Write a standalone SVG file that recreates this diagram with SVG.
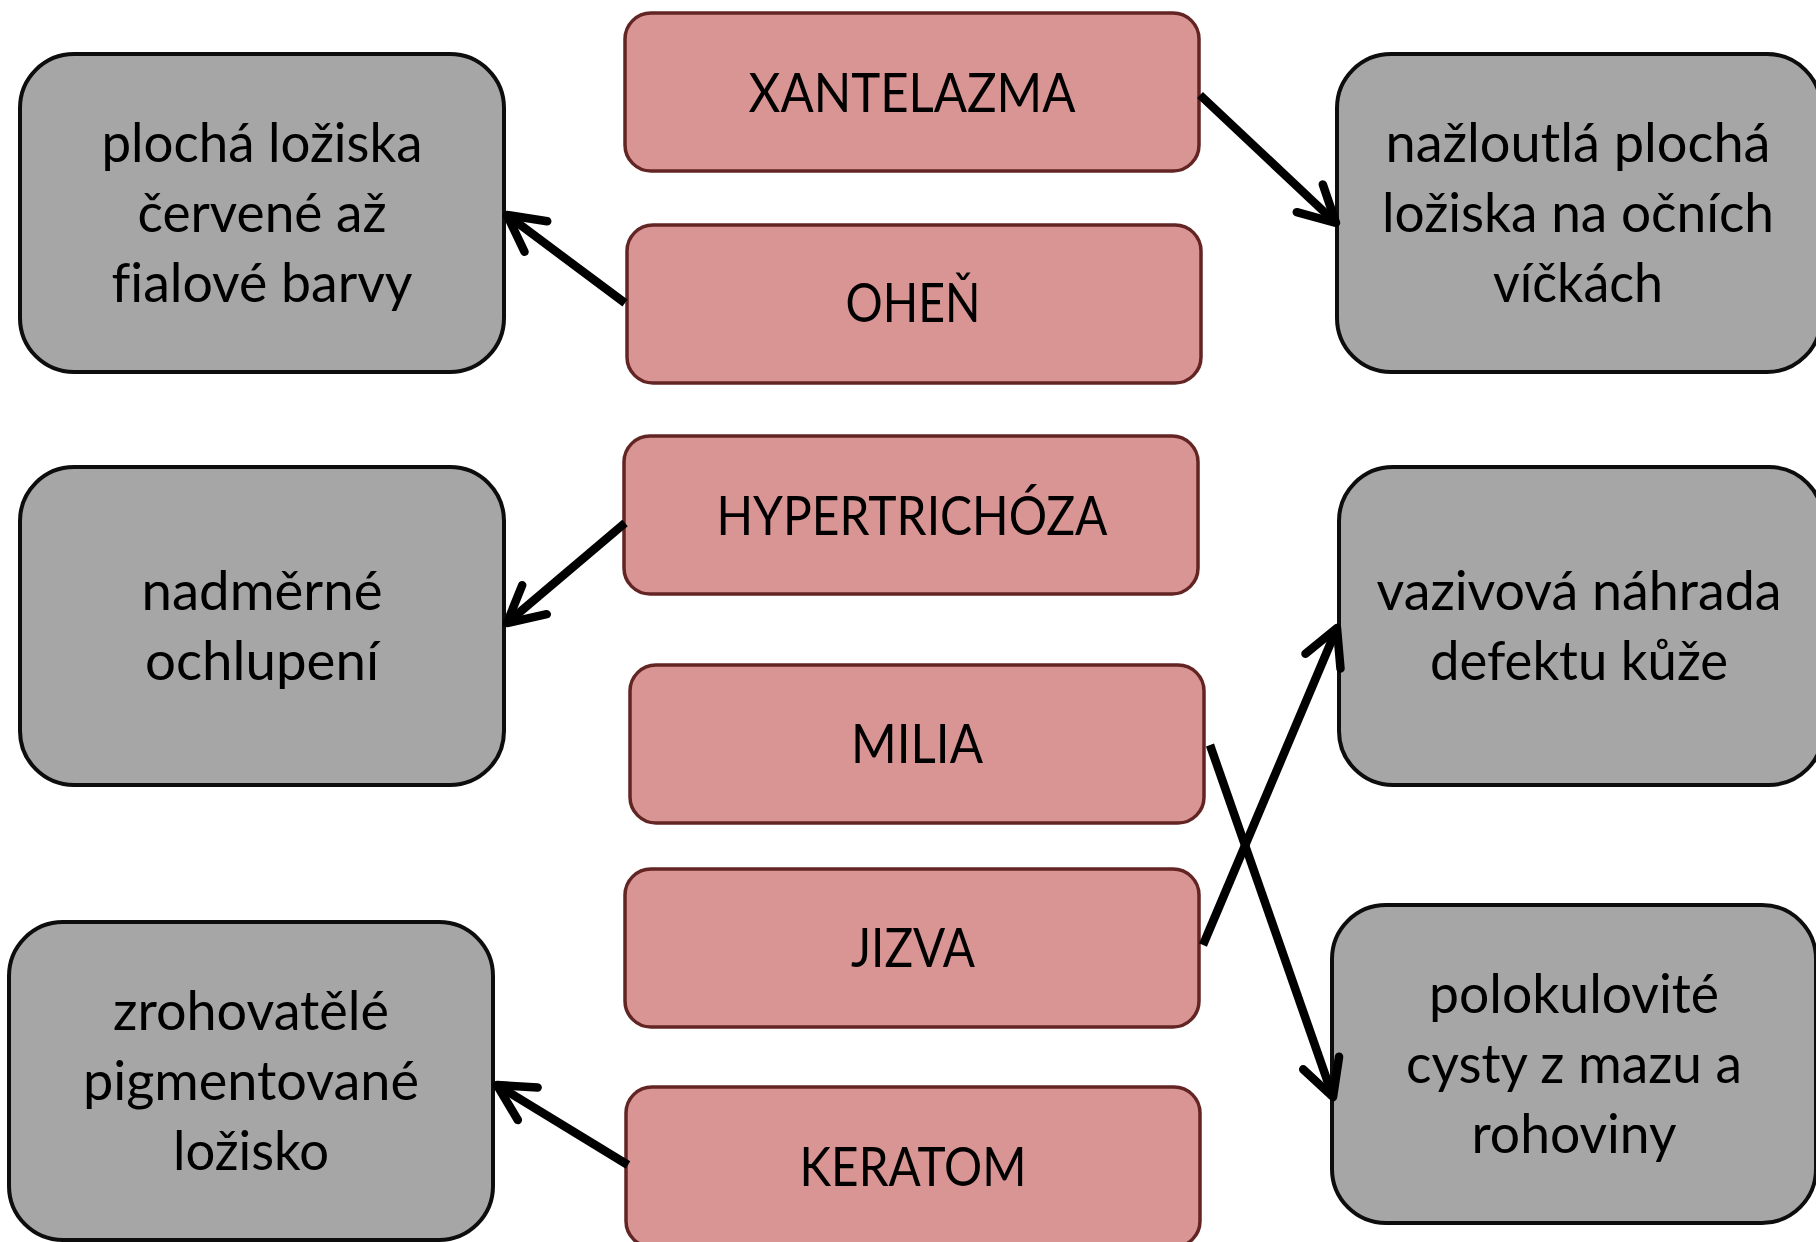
<svg xmlns="http://www.w3.org/2000/svg" width="1816" height="1242" viewBox="0 0 1816 1242">
<style>
.g{fill:#a6a6a6;stroke:#0d0d0d;stroke-width:4}
.p{fill:#d99594;stroke:#632523;stroke-width:3.5}
text{font-family:Lato,"Open Sans","Liberation Sans",sans-serif;font-size:54px;fill:#000;text-anchor:middle;font-variant-ligatures:none}
.c{stroke:#000;stroke-width:8.5;fill:none}
</style>
<defs>
<marker id="ah" markerUnits="userSpaceOnUse" viewBox="-50 -30 60 60" markerWidth="60" markerHeight="60" refX="0" refY="0" orient="auto">
<path d="M-36,-19 L0,0 L-36,19" fill="none" stroke="#000" stroke-width="8.5" stroke-linecap="round" stroke-linejoin="round"/>
</marker>
</defs>
<rect width="1816" height="1242" fill="#fff"/>
<g id="n-plocha">
<rect class="g" x="20" y="54" width="484" height="318" rx="54"/>
<text x="262" y="162" textLength="321" lengthAdjust="spacingAndGlyphs">plochá ložiska</text>
<text x="262" y="232" textLength="249" lengthAdjust="spacingAndGlyphs">červené až</text>
<text x="262" y="302" textLength="301" lengthAdjust="spacingAndGlyphs">fialové barvy</text>
</g>
<g id="n-nadmerne">
<rect class="g" x="20" y="467" width="484" height="318" rx="54"/>
<text x="262" y="610" textLength="241" lengthAdjust="spacingAndGlyphs">nadměrné</text>
<text x="262" y="680" textLength="234" lengthAdjust="spacingAndGlyphs">ochlupení</text>
</g>
<g id="n-zrohovatele">
<rect class="g" x="9" y="922" width="484" height="318" rx="54"/>
<text x="251" y="1030" textLength="276" lengthAdjust="spacingAndGlyphs">zrohovatělé</text>
<text x="251" y="1100" textLength="336" lengthAdjust="spacingAndGlyphs">pigmentované</text>
<text x="251" y="1170" textLength="156" lengthAdjust="spacingAndGlyphs">ložisko</text>
</g>
<g id="n-nazloutla">
<rect class="g" x="1337" y="54" width="484" height="318" rx="54"/>
<text x="1578" y="162" textLength="385" lengthAdjust="spacingAndGlyphs">nažloutlá plochá</text>
<text x="1578" y="232" textLength="392" lengthAdjust="spacingAndGlyphs">ložiska na očních</text>
<text x="1578" y="302" textLength="170" lengthAdjust="spacingAndGlyphs">víčkách</text>
</g>
<g id="n-vazivova">
<rect class="g" x="1339" y="467" width="484" height="318" rx="54"/>
<text x="1579" y="610" textLength="405" lengthAdjust="spacingAndGlyphs">vazivová náhrada</text>
<text x="1579" y="680" textLength="298" lengthAdjust="spacingAndGlyphs">defektu kůže</text>
</g>
<g id="n-polokulovite">
<rect class="g" x="1332" y="905" width="484" height="318" rx="54"/>
<text x="1574" y="1013" textLength="290" lengthAdjust="spacingAndGlyphs">polokulovité</text>
<text x="1574" y="1083" textLength="336" lengthAdjust="spacingAndGlyphs">cysty z mazu a</text>
<text x="1574" y="1153" textLength="205" lengthAdjust="spacingAndGlyphs">rohoviny</text>
</g>
<g id="n-xantelazma">
<rect class="p" x="625" y="13" width="574" height="158" rx="26"/>
<text x="912" y="112" textLength="327" lengthAdjust="spacingAndGlyphs">XANTELAZMA</text>
</g>
<g id="n-ohen">
<rect class="p" x="627" y="225" width="574" height="158" rx="26"/>
<text x="913" y="322" textLength="135" lengthAdjust="spacingAndGlyphs">OHEŇ</text>
</g>
<g id="n-hypertrichoza">
<rect class="p" x="624" y="436" width="574" height="158" rx="26"/>
<text x="912" y="535" textLength="391" lengthAdjust="spacingAndGlyphs">HYPERTRICHÓZA</text>
</g>
<g id="n-milia">
<rect class="p" x="630" y="665" width="574" height="158" rx="26"/>
<text x="917" y="763" textLength="132" lengthAdjust="spacingAndGlyphs">MILIA</text>
</g>
<g id="n-jizva">
<rect class="p" x="625" y="869" width="574" height="158" rx="26"/>
<text x="913" y="967" textLength="124" lengthAdjust="spacingAndGlyphs">JIZVA</text>
</g>
<g id="n-keratom">
<rect class="p" x="626" y="1087" width="574" height="160" rx="26"/>
<text x="913" y="1186" textLength="227" lengthAdjust="spacingAndGlyphs">KERATOM</text>
</g>
<g id="connectors">
<line class="c" x1="1200" y1="95" x2="1336" y2="223" marker-end="url(#ah)"/>
<line class="c" x1="625" y1="303" x2="507" y2="215" marker-end="url(#ah)"/>
<line class="c" x1="625" y1="523" x2="507" y2="623" marker-end="url(#ah)"/>
<line class="c" x1="1210" y1="745" x2="1333" y2="1097" marker-end="url(#ah)"/>
<line class="c" x1="1203" y1="945" x2="1337" y2="628" marker-end="url(#ah)"/>
<line class="c" x1="628" y1="1165" x2="497" y2="1085" marker-end="url(#ah)"/>
</g>
</svg>
